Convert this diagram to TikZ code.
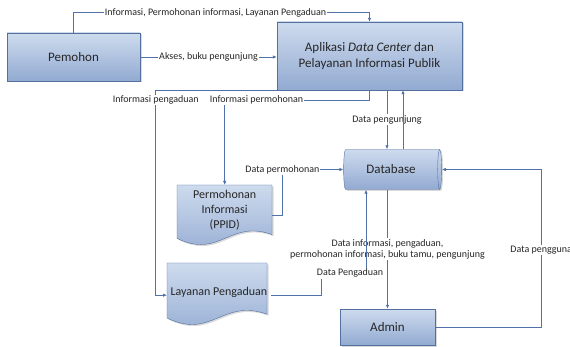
\documentclass[tikz,border=0pt]{standalone}
\usepackage{fontspec}
\setmainfont{Carlito}
\usetikzlibrary{arrows.meta,shapes.geometric,shadows,positioning}
\definecolor{boxtop}{RGB}{206,219,238}
\definecolor{boxbot}{RGB}{146,170,209}
\definecolor{boxline}{RGB}{84,112,158}
\definecolor{linkcol}{RGB}{80,114,168}
\definecolor{txt}{RGB}{38,38,38}
\tikzset{
  boxfill/.style={draw=boxline, top color=boxtop, bottom color=boxbot,
    drop shadow={shadow xshift=1.5pt, shadow yshift=-1.5pt, opacity=0.3}},
  boxnode/.style={boxfill, rectangle, text=txt, font=\fontsize{13}{15.5}\selectfont, align=center},
  docnode/.style={rectangle, text=txt, font=\fontsize{12}{15}\selectfont, align=center, anchor=north west},
  link/.style={draw=linkcol, line width=0.8pt, -{Latex[length=4pt,width=3.5pt]}},
  lbl/.style={fill=white, text=txt, font=\fontsize{10}{11.5}\selectfont, inner sep=1pt, align=center},
}
\newcommand{\docshape}[2]{\draw[boxfill] (0,0) -- (#1,0) -- (#1,-0.8*#2)
        .. controls (0.55*#1,-0.55*#2) and (0.45*#1,-1.2*#2) .. (0,-0.86*#2) -- cycle;}

\begin{document}
\begin{tikzpicture}[x=1pt,y=1pt]
    \useasboundingbox (0,0) rectangle (570,-347);

    % boxes
    \node[boxnode, minimum width=133pt, minimum height=48pt] (pemohon) at (73.5,-57) {Pemohon};
    \node[boxnode, minimum width=185pt, minimum height=68pt] (aplikasi) at (369.5,-56)
        {Aplikasi \textit{Data Center} dan\\Pelayanan Informasi Publik};
    \node[boxnode, cylinder, shape border rotate=0, aspect=0.25,
          minimum width=40pt, minimum height=98pt] (database) at (391,-169.5) {Database};
    \node[boxnode, minimum width=95pt, minimum height=36pt] (admin) at (387.5,-327) {Admin};

    % documents
    \begin{scope}[shift={(177,-185)}]
        \docshape{95}{62}
        \node[docnode, minimum width=95pt, minimum height=50pt] (ppid) at (0,0)
            {Permohonan\\Informasi\\(PPID)};
    \end{scope}

    \begin{scope}[shift={(167,-263)}]
        \docshape{100}{64}
        \node[docnode, minimum width=100pt, minimum height=58pt] (layanan) at (0,0)
            {Layanan Pengaduan};
    \end{scope}

    % connectors
    \draw[link] (pemohon.north) -- ++(0,20) -| node[lbl, pos=0.24]
        {Informasi, Permohonan informasi, Layanan Pengaduan} (aplikasi.north);
    \draw[link] (pemohon.east) -- node[lbl]{Akses, buku pengunjung} (pemohon.east -| aplikasi.west);
    \draw[link] (aplikasi.south) -- ++(0,-10) -| node[lbl, pos=0.39]{Informasi permohonan} (ppid.north);
    \draw[link] (aplikasi.south west) -- ++(-121,0) |- node[lbl, pos=0.024]{Informasi pengaduan}
        ([yshift=-3pt]layanan.west);

    \coordinate (pgdown) at ([xshift=17.5pt]aplikasi.south);
    \coordinate (pgup) at ([xshift=33.5pt]aplikasi.south);
    \draw[link] (pgdown) -- node[lbl]{Data pengunjung} (pgdown |- database.north);
    \draw[link] (pgup |- database.north) -- (pgup);

    \draw[link] ([yshift=-5pt]ppid.east) -- ++(10,0) |- node[lbl]{Data permohonan} (database.west);
    \draw[link] (admin.north |- database.south) -- node[lbl]
        {Data informasi, pengaduan,\\permohonan informasi, buku tamu, pengunjung} (admin.north);

    \coordinate (dpin) at ([xshift=-25pt]database.south);
    \draw[link] ([yshift=-3pt]layanan.east) -- ++(51,0) -- ++(0,22) -| node[lbl, pos=0.32]
        {Data Pengaduan} (dpin);
    \draw[link] (admin.east) -- ++(106,0) |- node[lbl, pos=0.244]{Data pengguna} (database.east);

\end{tikzpicture}
\end{document}
